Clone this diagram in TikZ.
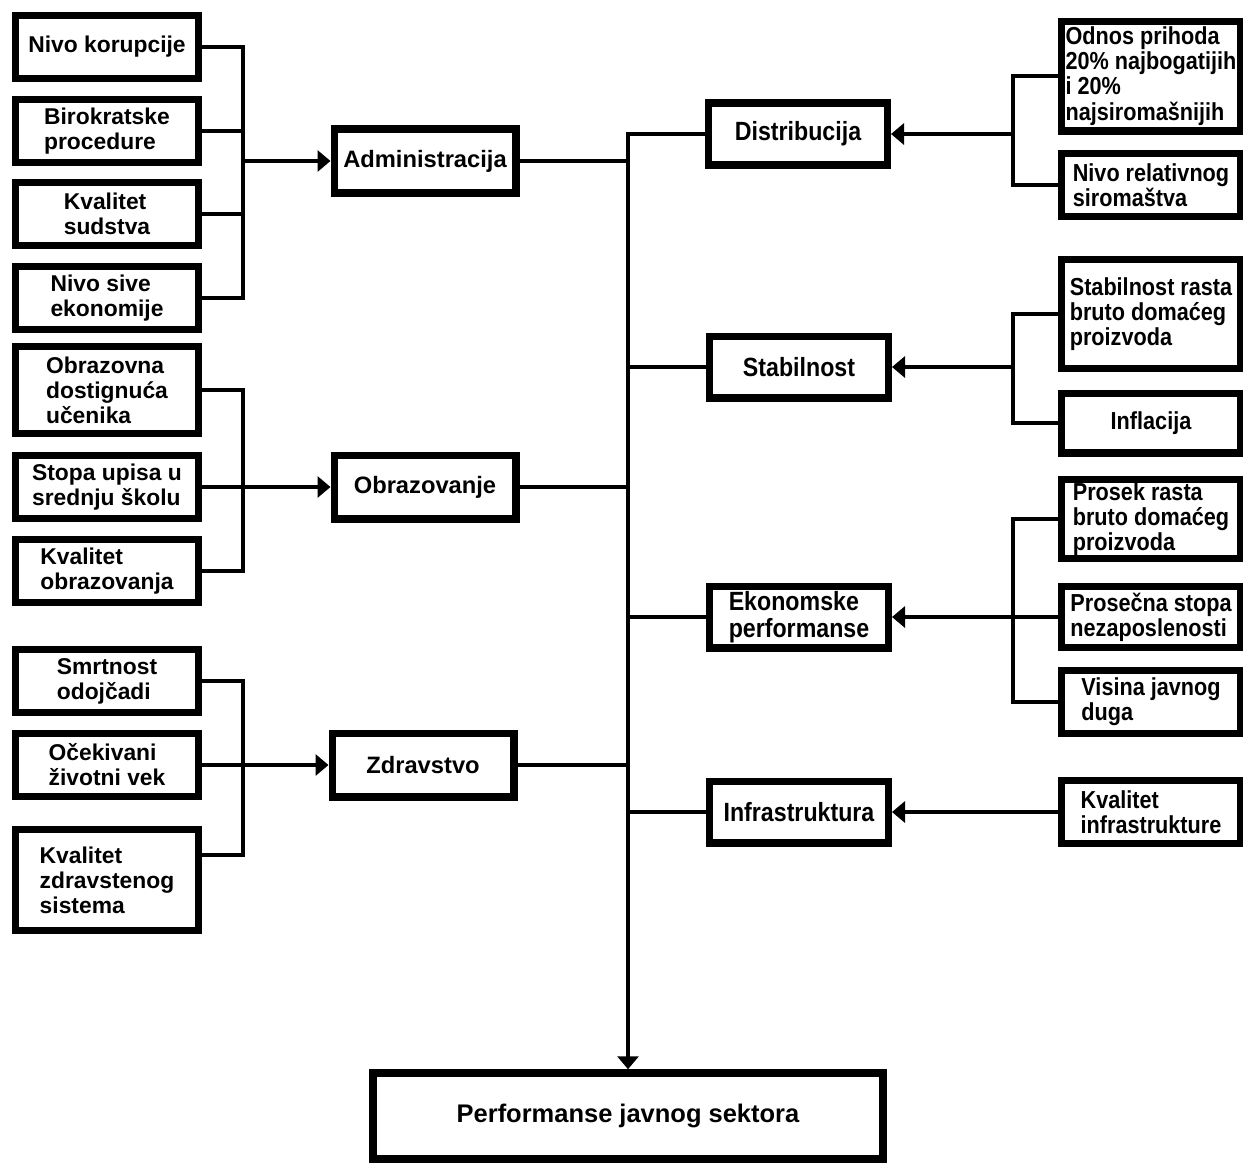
\documentclass[tikz,border=0pt]{standalone}
\usepackage{fontspec}
\setmainfont{Liberation Sans}
\newfontfamily\narrowfont[FakeStretch=0.88]{Liberation Sans}
\usetikzlibrary{arrows.meta}

\begin{document}
\begin{tikzpicture}[
    x=0.02cm, y=-0.02cm,
    item/.style={draw, line width=4pt, minimum width=3.66cm, minimum height=#1, align=left, inner sep=1pt, font=\fontsize{13}{14.3}\selectfont\bfseries},
    item/.default=1.26cm,
    group/.style={draw, line width=4pt, minimum width=3.64cm, minimum height=1.28cm, align=left, inner sep=1pt, font=\fontsize{13.5}{15}\selectfont\bfseries},
    side/.style={draw, line width=4pt, minimum width=3.58cm, minimum height=1.24cm, align=left, inner sep=1pt, font=\narrowfont\fontsize{15}{15.5}\selectfont\bfseries},
    fact/.style={draw, line width=4pt, minimum width=3.58cm, minimum height=#1, align=left, inner sep=1pt, font=\narrowfont\fontsize{14}{14.3}\selectfont\bfseries},
    fact/.default=1.26cm,
    goal/.style={draw, line width=4.3pt, minimum width=10.2cm, minimum height=1.72cm, font=\fontsize{14.5}{16}\selectfont\bfseries},
    link/.style={line width=2.3pt},
    arrow/.style={link, -{Triangle[length=0.26cm, width=0.42cm]}}
]
\useasboundingbox (0,0) rectangle (1243,1167);

% Administracija
\node[item] (korupcija) at (107,47) {Nivo korupcije};
\node[item] (birokratija) at (107,131) {Birokratske\\procedure};
\node[item] (sudstvo) at (107,214) {Kvalitet\\sudstva};
\node[item] (siva) at (107,298) {Nivo sive\\ekonomije};

% Obrazovanje
\node[item=1.74cm] (dostignuca) at (107,390) {Obrazovna\\dostignuća\\učenika};
\node[item] (upis) at (107,487) {Stopa upisa u\\srednju školu};
\node[item] (kvalobr) at (107,571) {Kvalitet\\obrazovanja};

% Zdravstvo
\node[item] (smrtnost) at (107,681) {Smrtnost\\odojčadi};
\node[item] (vek) at (107,765) {Očekivani\\životni vek};
\node[item=2.02cm] (zdrsistem) at (107,880) {Kvalitet\\zdravstenog\\sistema};

% Groups
\node[group] (admin) at (425,161) {Administracija};
\node[group] (obraz) at (425,487) {Obrazovanje};
\node[group] (zdrav) at (423,765) {Zdravstvo};

\node[side] (distrib) at (798,134) {Distribucija};
\node[side] (stab) at (799,367) {Stabilnost};
\node[side] (ekon) at (799,617) {Ekonomske\\performanse};
\node[side] (infra) at (799,812) {Infrastruktura};

% Right factors
\node[fact=2.2cm] (odnos) at (1151,76) {Odnos prihoda\\20\% najbogatijih\\i 20\%\\najsiromašnijih};
\node[fact] (relsirom) at (1151,185) {Nivo relativnog\\siromaštva};
\node[fact=2.18cm] (stabrast) at (1151,314) {Stabilnost rasta\\bruto domaćeg\\proizvoda};
\node[fact=1.2cm] (inflacija) at (1151,423) {Inflacija};
\node[fact=1.58cm] (prosek) at (1151,519) {Prosek rasta\\bruto domaćeg\\proizvoda};
\node[fact=1.22cm] (prosecna) at (1151,617) {Prosečna stopa\\nezaposlenosti};
\node[fact] (visina) at (1151,702) {Visina javnog\\duga};
\node[fact] (kvalinfra) at (1151,812) {Kvalitet\\infrastrukture};

% Result
\node[goal] (perf) at (628,1116) {Performanse javnog sektora};

% Buses
\coordinate (admbus) at (243,161);
\coordinate (obrbus) at (243,487);
\coordinate (zdrbus) at (243,765);
\coordinate (distbus) at (1013,134);
\coordinate (stabbus) at (1013,367);
\coordinate (ekonbus) at (1013,617);

% Left brackets
\draw[link] (korupcija.east) -| (admbus) |- (siva.east);
\draw[link] (birokratija.east) -- (birokratija.east -| admbus);
\draw[link] (sudstvo.east) -- (sudstvo.east -| admbus);
\draw[arrow] (admbus) -- (admin.west);

\draw[link] (dostignuca.east) -| (obrbus) |- (kvalobr.east);
\draw[arrow] (upis.east) -- (obraz.west);

\draw[link] (smrtnost.east) -| (zdrbus) |- (zdrsistem.15);
\draw[arrow] (vek.east) -- (zdrav.west);

% Trunk
\draw[arrow] (distrib.west) -| (perf.north);
\foreach \g in {admin, obraz, zdrav}
    \draw[link] (\g.east) -- (\g.east -| perf.north);
\foreach \g in {stab, ekon, infra}
    \draw[link] (\g.west) -- (\g.west -| perf.north);

% Right brackets
\draw[link] (odnos.west) -| (distbus) |- (relsirom.west);
\draw[arrow] (distbus) -- (distrib.east);
\draw[link] (stabrast.west) -| (stabbus) |- (inflacija.west);
\draw[arrow] (stabbus) -- (stab.east);
\draw[link] (prosek.west) -| (ekonbus) |- (visina.west);
\draw[arrow] (prosecna.west) -- (ekon.east);
\draw[arrow] (kvalinfra.west) -- (infra.east);

\end{tikzpicture}
\end{document}
